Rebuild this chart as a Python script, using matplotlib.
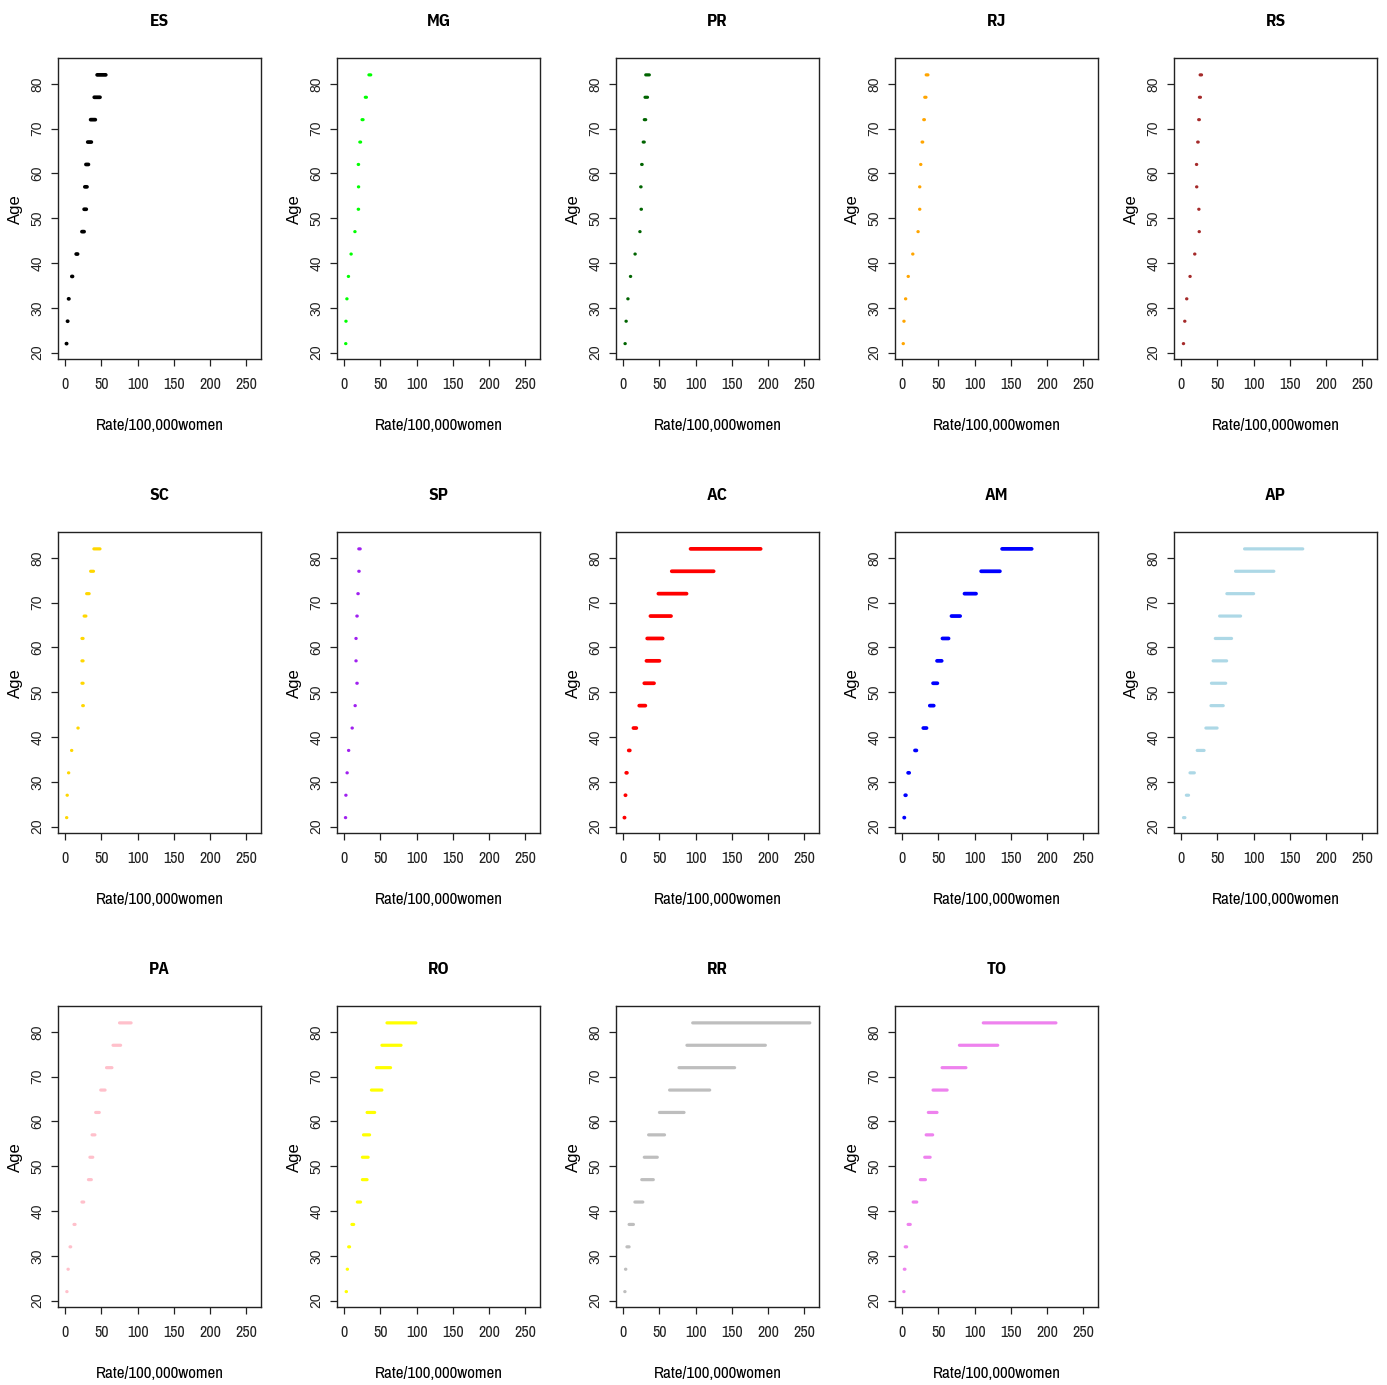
import matplotlib
matplotlib.use("Agg")
import matplotlib.pyplot as plt
from matplotlib import font_manager

plt.rcParams["path.simplify"] = False

ages = [22, 27, 32, 37, 42, 47, 52, 57, 62, 67, 72, 77, 82]
states = ["ES", "MG", "PR", "RJ", "RS", "SC", "SP", "AC", "AM", "AP", "PA", "RO", "RR", "TO"]
colors = ["black", "#00FF00", "#006400", "#FFA500", "#A52A2A", "#FFD700", "#A020F0",
          "#FF0000", "#0000FF", "#ADD8E6", "#FFC0CB", "#FFFF00", "#BEBEBE", "#EE82EE"]

ES_lo = [1.5, 3, 4.5, 9, 15, 23, 26, 27, 28.5, 31, 35, 40, 44]
ES_hi = [1.5, 3, 5, 10, 17, 26, 29, 30, 32, 36, 41.5, 48, 56]
MG_lo = [1.8, 2.1, 3.4, 5.5, 9.2, 14.5, 19.2, 19.5, 19.2, 21.4, 24.5, 29, 34]
MG_hi = [1.8, 2.1, 3.4, 5.9, 9.6, 14.9, 19.8, 19.9, 19.8, 22.6, 26, 30.6, 36.6]
PR_lo = [2.3, 3.7, 6.2, 9.8, 16.1, 22.8, 24.5, 24, 25.3, 27.5, 29, 30, 31]
PR_hi = [2.3, 3.7, 6.2, 10, 16.5, 23.2, 25.1, 24.6, 26.1, 29, 31, 33.5, 36]
RJ_lo = [1.1, 2.1, 4.4, 8, 14.3, 21.6, 23.9, 23.9, 25.3, 27.3, 29.6, 31, 33]
RJ_hi = [1.1, 2.1, 4.4, 8, 14.7, 22, 24.3, 24.3, 25.7, 28.3, 30.6, 32.8, 35.5]
RS_lo = [2.8, 4.6, 7.3, 11.9, 18.4, 24.6, 24.1, 21.1, 20.9, 22.6, 24, 25, 26]
RS_hi = [2.8, 4.6, 7.3, 11.9, 18.8, 25, 24.5, 21.5, 21.3, 23.4, 25, 26.5, 28]
SC_lo = [1.7, 2.4, 4.4, 8.6, 17.4, 24, 23, 23, 23, 26, 29.5, 35, 39.5]
SC_hi = [1.7, 2.4, 4.4, 8.8, 17.8, 25, 24.6, 24.6, 24.6, 28.5, 33, 39, 48]
SP_lo = [1.5, 2, 3.7, 5.8, 10.7, 14.8, 17.3, 16, 16, 17.3, 18.7, 20, 20]
SP_hi = [1.5, 2, 3.7, 5.8, 10.7, 14.8, 17.9, 16.4, 16.4, 17.9, 19.3, 20.6, 22]
AC_lo = [1.4, 2.8, 4, 7.5, 14, 22, 29, 32, 33, 37.5, 48.5, 67, 93]
AC_hi = [1.4, 3.2, 5, 9, 18, 30.5, 42.5, 50, 54.5, 66, 87.5, 125, 190]
AM_lo = [2.5, 4, 8, 17.5, 29, 38, 42.5, 48, 55.5, 68, 86, 109, 138]
AM_hi = [2.5, 5, 9.5, 19.5, 33.5, 43.5, 48.5, 54.5, 64, 80, 102, 135, 179]
AP_lo = [3, 7, 12, 22, 34, 41, 41.7, 44, 47, 53, 63, 75, 87.5]
AP_hi = [5, 10, 18, 31.5, 49.5, 58, 61.4, 62.7, 69.5, 82, 100, 128, 168]
PA_lo = [2, 3.7, 6.5, 12, 23, 32, 34, 37, 42, 49, 57, 66, 75]
PA_hi = [2, 3.7, 7.5, 13.5, 25.5, 36, 38, 41, 47, 55, 64.5, 76.5, 91]
RO_lo = [2.5, 4, 6, 10.5, 18, 25, 25, 26.5, 31.5, 37.5, 44.5, 52, 59]
RO_hi = [3, 4, 7.3, 13, 22.5, 31.5, 33, 35, 42, 52, 64, 78.5, 99]
RR_lo = [2, 3, 5, 8, 16, 25.5, 29, 35, 50, 64, 77, 88, 96]
RR_hi = [2, 3.5, 8, 14, 27, 41.5, 47, 57, 84, 119.5, 154, 196.5, 258]
TO_lo = [2, 2.7, 4, 8, 15, 25, 31, 33, 36, 42.5, 55, 79, 112]
TO_hi = [2, 3.7, 6, 11, 20, 32, 38.5, 42, 48, 62, 88, 132, 212.5]

lows = [ES_lo, MG_lo, PR_lo, RJ_lo, RS_lo, SC_lo, SP_lo, AC_lo, AM_lo, AP_lo, PA_lo, RO_lo, RR_lo, TO_lo]
highs = [ES_hi, MG_hi, PR_hi, RJ_hi, RS_hi, SC_hi, SP_hi, AC_hi, AM_hi, AP_hi, PA_hi, RO_hi, RR_hi, TO_hi]

xticks = [0, 50, 100, 150, 200, 250]
yticks = [20, 30, 40, 50, 60, 70, 80]

names = {f.name for f in font_manager.fontManager.ttflist}
narrow = next((n for n in ["Archivo Narrow", "Liberation Sans Narrow", "Roboto Condensed"]
               if n in names), "Liberation Sans")
bold_cond = next((n for n in ["IBM Plex Sans Condensed", "Barlow Condensed", "Roboto Condensed"]
                  if n in names), "Liberation Sans")
regular = "Liberation Sans"

W, H = 1387, 1385
fig = plt.figure(figsize=(W / 100, H / 100), dpi=100)
fig.patch.set_facecolor("white")

box_w, box_h = 202.7, 301.0
for i, st in enumerate(states):
    r, c = divmod(i, 5)
    left = 58.3 + 279 * c
    top = 58.3 + 474 * r
    ax = fig.add_axes([left / W, 1 - (top + box_h) / H, box_w / W, box_h / H])
    lw = 2.7 if st in ("ES", "AC", "AM") else 2.3
    for a, lo, hi in zip(ages, lows[i], highs[i]):
        hi_d = max(hi, lo + 0.4)
        ax.plot([lo, hi_d], [a, a], color=colors[i], linewidth=lw,
                solid_capstyle="round", snap=False)
    ax.set_xlim(-9.7, 270.7)
    ax.set_ylim(18.5, 85.7)
    ax.set_xticks(xticks)
    ax.set_yticks(yticks)
    ax.set_xticklabels([str(v) for v in xticks], fontfamily=narrow, fontsize=11.5)
    ax.set_yticklabels([str(v) for v in yticks], fontfamily=regular, fontsize=10,
                       rotation=90, va="center")
    ax.tick_params(axis="both", direction="out", length=5, width=0.9, colors="#222222")
    ax.tick_params(axis="x", pad=8)
    ax.tick_params(axis="y", pad=5)
    for sp in ax.spines.values():
        sp.set_linewidth(1.0)
        sp.set_color("#222222")
    ax.text(0.5, 1 + 37.3 / box_h, st, transform=ax.transAxes, ha="center", va="center",
            fontfamily=bold_cond, fontweight="bold", fontsize=12.5)
    ax.text(0.5, -66 / box_h, "Rate/100,000women", transform=ax.transAxes,
            ha="center", va="center", fontfamily=narrow, fontsize=12.2)
    ax.text(-43 / box_w, 0.5, "Age", transform=ax.transAxes, ha="center", va="center",
            rotation=90, fontfamily=regular, fontsize=12)

fig.savefig("out.png", dpi=100, facecolor="white")
